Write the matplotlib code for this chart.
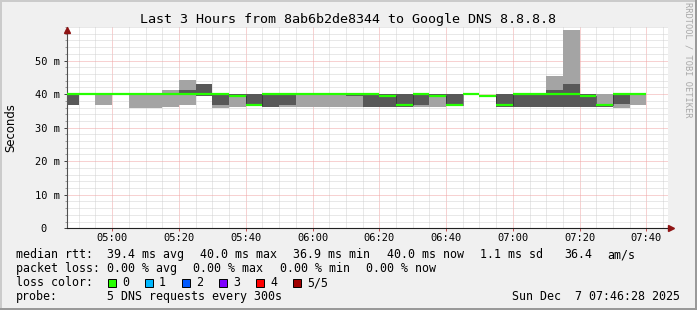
import matplotlib
matplotlib.use('Agg')
import matplotlib.pyplot as plt
from matplotlib.patches import Rectangle
from matplotlib.ticker import MultipleLocator, FixedLocator
import matplotlib.transforms as mtransforms

# 5 minute rrd steps, ping values in ms (sorted pings p1..p5, p3 = median)
step_start = ['04:45', '04:50', '04:55', '05:00', '05:05', '05:10', '05:15',
              '05:20', '05:25', '05:30', '05:35', '05:40', '05:45', '05:50',
              '05:55', '06:00', '06:05', '06:10', '06:15', '06:20', '06:25',
              '06:30', '06:35', '06:40', '06:45', '06:50', '06:55', '07:00',
              '07:05', '07:10', '07:15', '07:20', '07:25', '07:30', '07:35']
ping1 = [36.8, 40.0, 36.8, 40.0, 36.0, 36.0, 36.1, 36.8, 39.4, 36.0, 36.1, 36.8,
         36.1, 36.1, 36.1, 36.1, 36.1, 36.1, 36.1, 36.1, 36.1, 36.1, 36.1, 36.9,
         40.0, 39.3, 36.1, 36.1, 36.1, 36.1, 36.1, 36.1, 36.3, 35.9, 36.8]
ping2 = [36.8, 40.0, 40.0, 40.0, 40.0, 40.0, 40.0, 40.0, 39.4, 36.8, 39.3, 36.8,
         36.1, 36.8, 40.0, 40.0, 40.0, 39.3, 36.1, 36.1, 36.1, 36.8, 39.3, 36.9,
         40.0, 39.3, 36.1, 36.1, 36.1, 36.1, 36.1, 36.1, 36.3, 37.0, 40.0]
median = [40.0, 40.0, 40.0, 40.0, 40.0, 40.0, 40.0, 40.0, 40.0, 40.0, 39.3, 36.9,
          40.0, 40.0, 40.0, 40.0, 40.0, 40.0, 40.0, 39.3, 36.9, 40.0, 39.3, 36.9,
          40.0, 39.3, 36.9, 40.0, 40.0, 40.0, 40.0, 39.4, 36.9, 40.0, 40.0]
ping4 = [40.0, 40.0, 40.0, 40.0, 40.0, 40.0, 40.0, 41.1, 43.1, 40.0, 40.0, 40.0,
         40.0, 40.0, 40.0, 40.0, 40.0, 40.0, 40.0, 40.0, 40.0, 40.0, 40.0, 40.0,
         40.0, 39.3, 40.0, 40.0, 40.0, 41.1, 43.1, 40.0, 37.0, 40.0, 40.0]
ping5 = [40.0, 40.0, 40.0, 40.0, 40.0, 40.0, 41.1, 44.1, 43.1, 40.0, 40.0, 40.0,
         40.0, 40.0, 40.0, 40.0, 40.0, 40.0, 40.0, 40.0, 40.0, 40.0, 40.0, 40.0,
         40.0, 39.3, 40.0, 40.0, 40.0, 45.3, 59.0, 40.0, 40.0, 40.0, 40.0]

tick_labels = ['05:00', '05:20', '05:40', '06:00', '06:20', '06:40', '07:00', '07:20', '07:40']
y_labels = ['0  ', '10 m', '20 m', '30 m', '40 m', '50 m']

loss_names = ['0', '1', '2', '3', '4', '5/5']
loss_colors = ['#26ff00', '#00b8ff', '#0059ff', '#7e00ff', '#ff0000', '#a00000']


def minutes(hhmm):
    h, m = hhmm.split(':')
    return (int(h) - 4) * 60 + int(m)


x = [minutes(t) for t in step_start]
step = 5
t_start = minutes('04:46') + 28 / 60
t_end = t_start + 180

W, H = 697, 310
MONO = 'DejaVu Sans Mono'


def fx(px):
    return px / W


def fy(py):
    return 1 - py / H


fig = plt.figure(figsize=(W / 100, H / 100), dpi=100, facecolor='#f0f0f0')
ax = fig.add_axes([fx(67), fy(228.3), 601 / W, 201.3 / H])
ax.set_facecolor('white')
ax.set_xlim(t_start, t_end)
ax.set_ylim(0, 60)

# grid (rrdtool style dotted)
ax.xaxis.set_major_locator(FixedLocator([minutes(t) for t in tick_labels]))
ax.xaxis.set_minor_locator(MultipleLocator(5))
ax.set_xticklabels(tick_labels)
ax.yaxis.set_major_locator(MultipleLocator(10))
ax.yaxis.set_minor_locator(MultipleLocator(2))
ax.set_yticks([0, 10, 20, 30, 40, 50])
ax.set_yticklabels(y_labels)
ax.set_axisbelow(True)
ax.grid(which='minor', color='#d2d2d2', linestyle=(0, (1, 1)), linewidth=0.72)
ax.grid(which='major', color='#f0a4a4', linestyle=(0, (1, 1)), linewidth=0.72)

# smoke
ax.bar(x, [b - a for a, b in zip(ping1, ping5)], bottom=ping1, width=step,
       align='edge', color='#a4a4a4', linewidth=0, zorder=2)
ax.bar(x, [b - a for a, b in zip(ping2, ping4)], bottom=ping2, width=step,
       align='edge', color='#585858', linewidth=0, zorder=3)

# median
ax.hlines(median, x, [v + step for v in x], colors='#26ff00', linewidth=1.6,
          zorder=5, capstyle='butt')
for i in range(len(x) - 1):
    if median[i] != median[i + 1]:
        ax.vlines(x[i] + step, min(median[i], median[i + 1]),
                  max(median[i], median[i + 1]), colors='#202020',
                  linestyles=(0, (1, 1)), linewidth=0.72, zorder=4)

for s in ['top', 'right']:
    ax.spines[s].set_visible(False)
ax.spines['left'].set_color('#505050')
ax.spines['bottom'].set_color('#202020')
ax.spines['left'].set_linewidth(0.8)
ax.spines['bottom'].set_linewidth(0.8)

ax.tick_params(axis='x', which='major', length=2, width=0.7, color='#c05050',
               pad=1.2, labelsize=7.5)
ax.tick_params(axis='x', which='minor', length=0)
ax.tick_params(axis='y', which='major', length=2, width=0.7, color='#404040',
               pad=3, labelsize=7.5)
ax.tick_params(axis='y', which='minor', length=1.5, width=0.6, color='#909090')
for lab in ax.get_xticklabels() + ax.get_yticklabels():
    lab.set_family(MONO)

# axis arrows
arrow_col = '#8f1414'
off_up = mtransforms.offset_copy(ax.transAxes, fig=fig, x=0, y=-2.5, units='dots')
ax.plot([0], [1], marker='^', ms=4.5, color=arrow_col, transform=off_up,
        clip_on=False, zorder=6)
off_r = mtransforms.offset_copy(ax.transAxes, fig=fig, x=3, y=0, units='dots')
ax.plot([1], [0], marker='>', ms=4.5, color=arrow_col, transform=off_r,
        clip_on=False, zorder=6)

# texts
fig.text(fx(348.5), fy(19), 'Last 3 Hours from 8ab6b2de8344 to Google DNS 8.8.8.8',
         ha='center', va='center', family=MONO, fontsize=9.6)
fig.text(fx(11), fy(127.5), 'Seconds', rotation=90, ha='center', va='center',
         family='DejaVu Sans', fontsize=8.4)
fig.text(fx(688), fy(60), 'RRDTOOL / TOBI OETIKER', rotation=270, ha='center',
         va='center', family=MONO, fontsize=6.2, color='#a8a8a8')

rows = [254.5, 268.5, 282.5, 296.5]
legend_rows = [
    [(16, 'median rtt:'), (106.7, '39.4 ms avg'), (200, '40.0 ms max'),
     (293, '36.9 ms min'), (387, '40.0 ms now'), (480, '1.1 ms sd'),
     (564, '36.4'), (607, 'am/s')],
    [(16, 'packet loss:'), (106.7, '0.00 % avg'), (193, '0.00 % max'),
     (280, '0.00 % min'), (366, '0.00 % now')],
    [(16, 'loss color:')],
    [(16, 'probe:'), (106.7, '5 DNS requests every 300s')],
]
for ry, items in zip(rows, legend_rows):
    for px, txt in items:
        fig.text(fx(px), fy(ry), txt, ha='left', va='center', family=MONO,
                 fontsize=8.4)

box_x = [108, 145, 182, 219, 256, 293]
for bx, name, col in zip(box_x, loss_names, loss_colors):
    fig.add_artist(Rectangle((fx(bx), fy(rows[2] + 4)), 8.4 / W, 8 / H,
                             transform=fig.transFigure, facecolor=col,
                             edgecolor='black', linewidth=0.7))
    fig.text(fx(bx + 14), fy(rows[2]), name, ha='left', va='center',
             family=MONO, fontsize=8.4)

fig.text(fx(680), fy(rows[3]), 'Sun Dec  7 07:46:28 2025', ha='right',
         va='center', family=MONO, fontsize=8.4)

# 3d frame
fig.add_artist(Rectangle((0, fy(2)), 1, 2 / H, transform=fig.transFigure,
                         facecolor='#cbcbcb', linewidth=0))
fig.add_artist(Rectangle((0, 0), 2 / W, 1, transform=fig.transFigure,
                         facecolor='#cbcbcb', linewidth=0))
fig.add_artist(Rectangle((0, 0), 1, 2.5 / H, transform=fig.transFigure,
                         facecolor='#999999', linewidth=0))
fig.add_artist(Rectangle((fx(W - 2.5), 0), 2.5 / W, 1, transform=fig.transFigure,
                         facecolor='#999999', linewidth=0))

fig.savefig('out.png', dpi=100, facecolor=fig.get_facecolor())
